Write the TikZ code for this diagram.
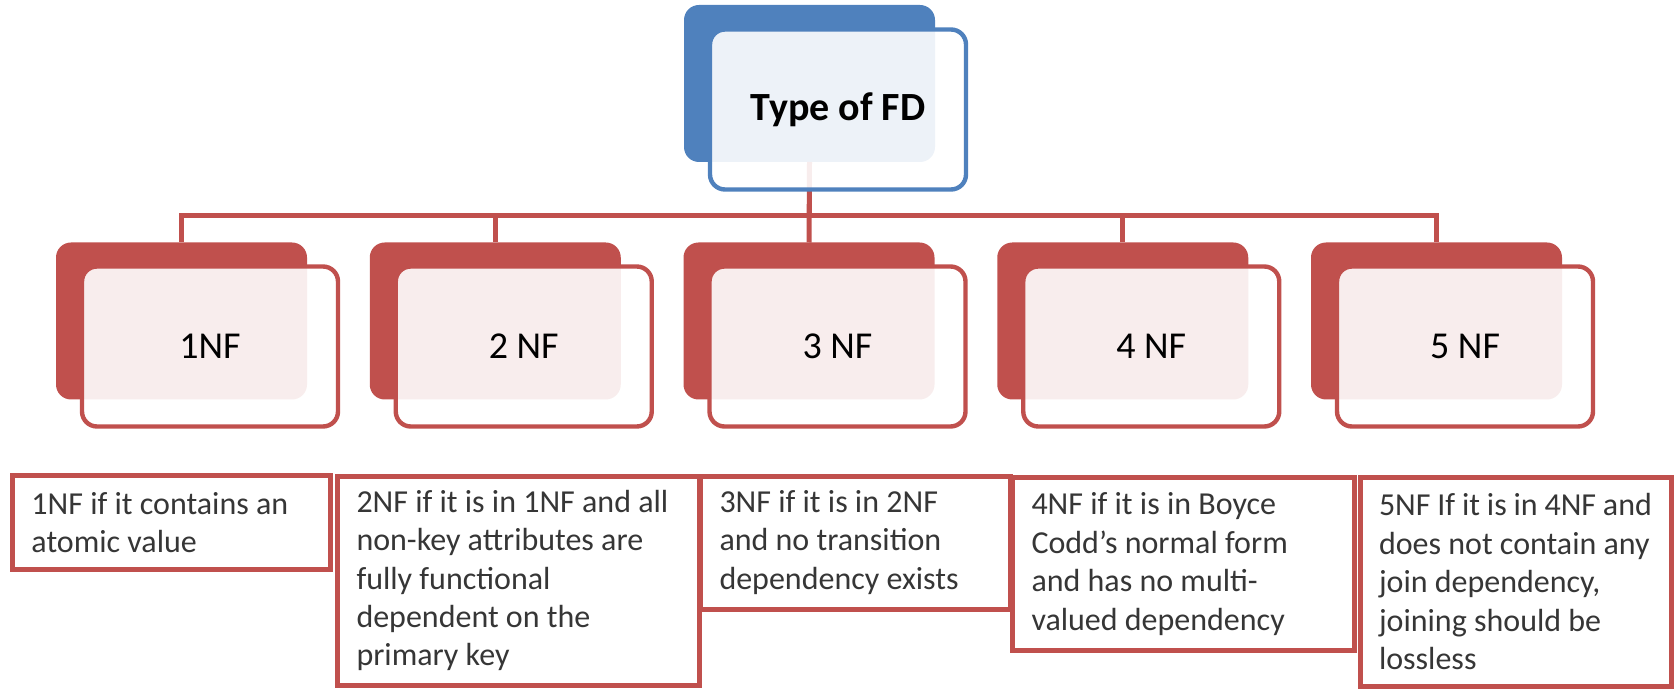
\documentclass[tikz,border=0pt]{standalone}
\usepackage{fontspec}
\setmainfont{Carlito}[Ligatures=Common]
\definecolor{fdblue}{HTML}{4F81BD}
\definecolor{nfred}{HTML}{C0504D}
\definecolor{desctxt}{HTML}{363636}
\begin{document}
\begin{tikzpicture}[x=0.5pt,y=-0.5pt,
back/.style={shape=rectangle,rounded corners=7.5pt,minimum width=125.5pt,minimum height=78.5pt,inner sep=0pt,outer sep=0pt},
front/.style={shape=rectangle,rounded corners=7.5pt,line width=2.2pt,fill=white,fill opacity=0.9,text opacity=1,minimum width=128pt,minimum height=80pt,inner sep=0pt,outer sep=0pt,font=\fontsize{19}{23}\selectfont},
fdback/.style={back,fill=fdblue},fdfront/.style={front,draw=fdblue,font=\fontsize{20}{24}\selectfont\bfseries},
nfback/.style={back,fill=nfred},nffront/.style={front,draw=nfred},
link/.style={draw=nfred,line width=2.5pt},
desc/.style={shape=rectangle,draw=nfred,line width=2.5pt,fill=white,align=flush left,inner xsep=9.5pt,inner ysep=2pt,outer sep=0pt,text=desctxt,font=\fontsize{16}{19.2}\selectfont}]
\useasboundingbox (0,0) rectangle (1675,689);
\def\dx{313.75};
\def\ox{28.5};
\def\oy{25.5};
\def\yb{321};

\node[fdback] (FDb) at (809.5,83.5) {};
\node[nfback] (NF1b) at (181.5,\yb) {};
\node[nfback] (NF2b) at (181.5+\dx,\yb) {};
\node[nfback] (NF3b) at (181.5+2*\dx,\yb) {};
\node[nfback] (NF4b) at (181.5+3*\dx,\yb) {};
\node[nfback] (NF5b) at (181.5+4*\dx,\yb) {};

\coordinate (bus) at (809.5,215.5);
\draw[link] (FDb.south) |- (bus) -| (NF1b.north);
\draw[link] (FDb.south) |- (bus) -| (NF2b.north);
\draw[link] (FDb.south) -- (NF3b.north);
\draw[link] (FDb.south) |- (bus) -| (NF4b.north);
\draw[link] (FDb.south) |- (bus) -| (NF5b.north);

\node[fdfront] (FD) at (809.5+\ox,83.5+\oy+0.5) {Type of FD};
\node[nffront] (NF1) at (181.5+\ox,\yb+\oy) {1NF};
\node[nffront] (NF2) at (181.5+\dx+\ox,\yb+\oy) {2 NF};
\node[nffront] (NF3) at (181.5+2*\dx+\ox,\yb+\oy) {3 NF};
\node[nffront] (NF4) at (181.5+3*\dx+\ox,\yb+\oy) {4 NF};
\node[nffront] (NF5) at (181.5+4*\dx+\ox,\yb+\oy) {5 NF};

\node[desc,text width=140pt,minimum height=47pt] (D1) at (171.5,522.5) {1NF if it contains an\\atomic value};
\node[desc,text width=162pt,minimum height=104.5pt] (D2) at (518.5,580.5) {2NF if it is in 1NF and all\\non-key attributes are\\fully functional\\dependent on the\\primary key};
\node[desc,text width=136pt,minimum height=66.5pt] (D3) at (855.5,542.5) {3NF if it is in 2NF\\and no transition\\dependency exists};
\node[desc,text width=152pt,minimum height=86.5pt] (D4) at (1183.5,564) {4NF if it is in Boyce\\Codd's normal form\\and has no multi-\\valued dependency};
\node[desc,text width=136.5pt,minimum height=104.25pt] (D5) at (1515.5,581.75) {5NF If it is in 4NF and\\does not contain any\\join dependency,\\joining should be\\lossless};
\end{tikzpicture}
\end{document}
